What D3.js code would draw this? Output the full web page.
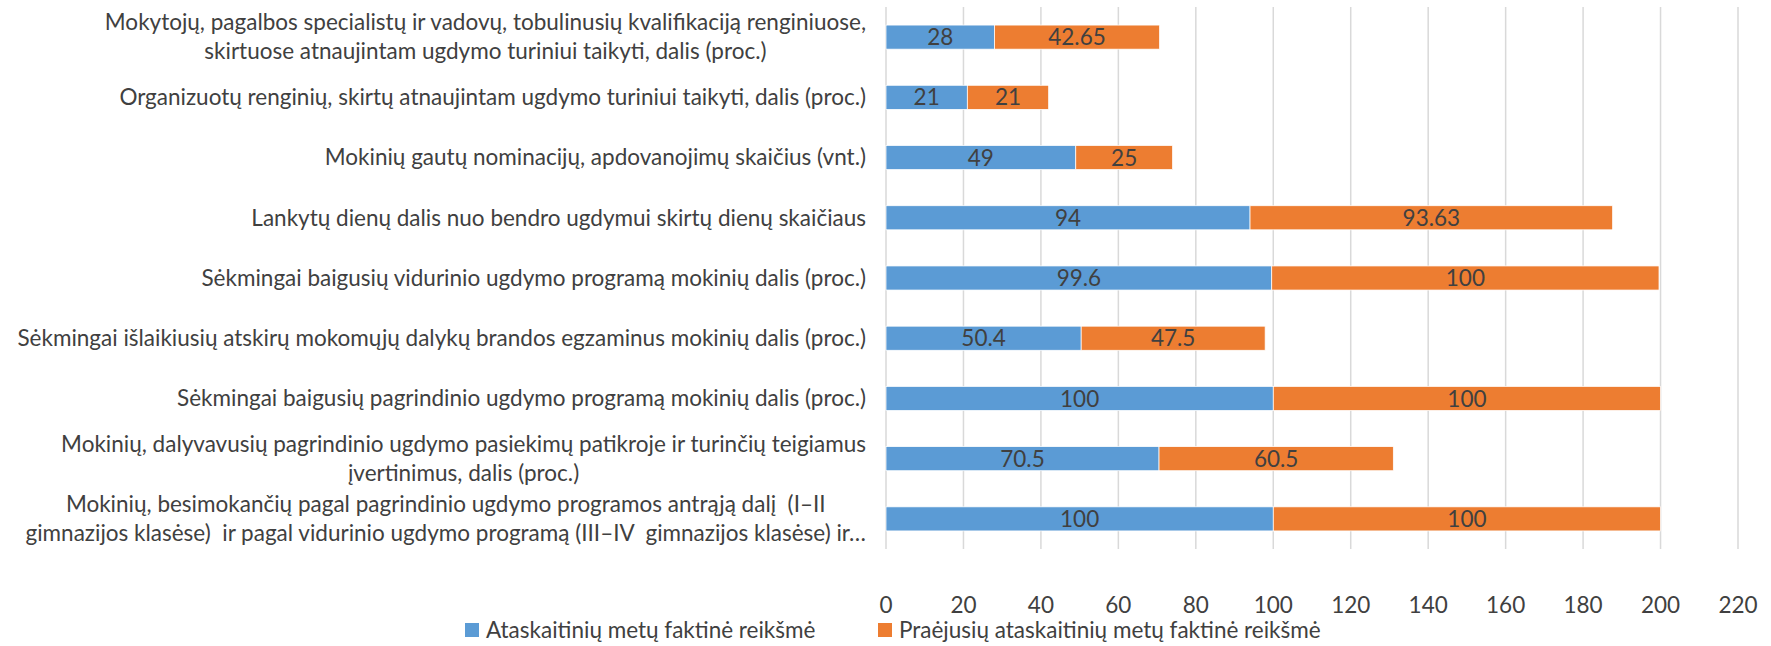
<!DOCTYPE html>
<html>
<head>
<meta charset="utf-8">
<script src="https://cdn.jsdelivr.net/npm/d3@7"></script>
<style>
  body { margin: 0; background: #fff; }
  text { font-family: Lato, "Open Sans", sans-serif; fill: #404040; font-size: 22.5px; white-space: pre; }
</style>
</head>
<body>
<div id="chart"></div>
<script>
// category labels, top to bottom (each entry = lines of the wrapped label)
let categories = [
  ['Mokytojų, pagalbos specialistų ir vadovų, tobulinusių kvalifikaciją renginiuose,', 'skirtuose atnaujintam ugdymo turiniui taikyti, dalis (proc.)'],
  ['Organizuotų renginių, skirtų atnaujintam ugdymo turiniui taikyti, dalis (proc.)'],
  ['Mokinių gautų nominacijų, apdovanojimų skaičius (vnt.)'],
  ['Lankytų dienų dalis nuo bendro ugdymui skirtų dienų skaičiaus'],
  ['Sėkmingai baigusių vidurinio ugdymo programą mokinių dalis (proc.)'],
  ['Sėkmingai išlaikiusių atskirų mokomųjų dalykų brandos egzaminus mokinių dalis (proc.)'],
  ['Sėkmingai baigusių pagrindinio ugdymo programą mokinių dalis (proc.)'],
  ['Mokinių, dalyvavusių pagrindinio ugdymo pasiekimų patikroje ir turinčių teigiamus', 'įvertinimus, dalis (proc.)'],
  ['Mokinių, besimokančių pagal pagrindinio ugdymo programos antrąją dalį  (I–II', 'gimnazijos klasėse)  ir pagal vidurinio ugdymo programą (III–IV  gimnazijos klasėse) ir…']
]
let currentYear = [28, 21, 49, 94, 99.6, 50.4, 100, 70.5, 100]
let previousYear = [42.65, 21, 25, 93.63, 100, 47.5, 100, 60.5, 100]
let seriesNames = ['Ataskaitinių metų faktinė reikšmė', 'Praėjusių ataskaitinių metų faktinė reikšmė']
let seriesColors = ['#5B9BD5', '#ED7D31']
let xTicks = [0, 20, 40, 60, 80, 100, 120, 140, 160, 180, 200, 220]

const width = 1771, height = 646
const plotLeft = 886, plotRight = 1738, plotTop = 7, plotBottom = 549

let svg = d3.select('#chart').append('svg')
  .attr('width', width)
  .attr('height', height)

let x = d3.scaleLinear().domain([0, 220]).range([plotLeft, plotRight])
let y = d3.scaleBand().domain(d3.range(categories.length)).range([plotTop, plotBottom]).paddingInner(0.6).paddingOuter(0.3)

// gridlines
svg.append('g')
  .selectAll('line')
  .data(xTicks)
  .join('line')
  .attr('x1', d => x(d)).attr('x2', d => x(d))
  .attr('y1', plotTop).attr('y2', plotBottom)
  .attr('stroke', '#D9D9D9')
  .attr('stroke-width', 1.5)

// tick labels
svg.append('g')
  .selectAll('text')
  .data(xTicks)
  .join('text')
  .attr('x', d => x(d))
  .attr('y', 605)
  .attr('dy', '0.35em')
  .attr('text-anchor', 'middle')
  .text(d => d)

// stacked bars
let stacked = categories.map((c, i) => ({ i: i, a: currentYear[i], b: previousYear[i] }))
let stack = d3.stack().keys(['a', 'b'])(stacked)

let layers = svg.append('g')
  .selectAll('g')
  .data(stack)
  .join('g')
  .attr('fill', (d, k) => seriesColors[k])

layers.selectAll('rect')
  .data(d => d)
  .join('rect')
  .attr('x', d => x(d[0]))
  .attr('y', d => y(d.data.i))
  .attr('width', d => x(d[1]) - x(d[0]))
  .attr('height', y.bandwidth())
  .attr('stroke', '#fff')
  .attr('stroke-width', 0.75)

// value labels in the middle of each segment
layers.selectAll('text')
  .data(d => d.map(s => ({ s: s, v: s[1] - s[0] })))
  .join('text')
  .attr('x', d => x((d.s[0] + d.s[1]) / 2))
  .attr('y', d => y(d.s.data.i) + y.bandwidth() / 2)
  .attr('dy', '0.36em')
  .attr('text-anchor', 'middle')
  .text(d => +d.v.toFixed(2))

// category labels: lines centred on each other, block right-aligned
let lineH = 29
categories.forEach((lines, i) => {
  let g = svg.append('g')
  let cy = y(i) + y.bandwidth() / 2
  let texts = lines.map((ln, j) => g.append('text')
    .attr('y', cy + (j - (lines.length - 1) / 2) * lineH)
    .attr('dy', '0.35em')
    .attr('text-anchor', 'middle')
    .text(ln))
  let maxW = d3.max(texts, t => t.node().getComputedTextLength())
  texts.forEach(t => t.attr('x', 866 - maxW / 2))
})

// legend
let legendX = [465, 878]
seriesNames.forEach((name, k) => {
  svg.append('rect')
    .attr('x', legendX[k]).attr('y', 623)
    .attr('width', 14).attr('height', 14)
    .attr('fill', seriesColors[k])
  svg.append('text')
    .attr('x', legendX[k] + 21).attr('y', 630)
    .attr('dy', '0.35em')
    .text(name)
})
</script>
</body>
</html>
